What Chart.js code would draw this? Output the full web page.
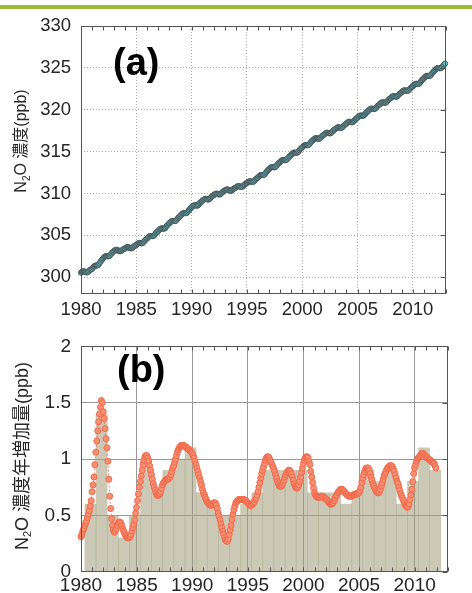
<!DOCTYPE html>
<html>
<head>
<meta charset="utf-8">
<script src="https://cdn.jsdelivr.net/npm/chart.js@4.4.1/dist/chart.umd.min.js"></script>
<style>
  body { margin: 0; background: #fff; }
  #page { position: relative; width: 472px; height: 593px; overflow: hidden; }
  #topBar { position: absolute; left: 0; top: 5px; width: 472px; height: 4px; background: #98bd38; }
  .panel { position: absolute; left: 0; width: 472px; }
  #panelA { top: 0; height: 325px; }
  #panelB { top: 325px; height: 268px; }
</style>
</head>
<body>
<div id="page">
  <div id="topBar"></div>
  <div class="panel" id="panelA"><canvas id="chartA"></canvas></div>
  <div class="panel" id="panelB"><canvas id="chartB"></canvas></div>
</div>
<script>
const FONT = "'Liberation Sans', Arial, 'Noto Sans CJK JP', sans-serif";
const TEXT = "#262626";

// x axis labels, shared by both panels
const yearLabels = [1980, 1985, 1990, 1995, 2000, 2005, 2010];

// (a) monthly N2O concentration (ppb), one row per year from 1980
const concStartYear = 1980;
const concTicks = [300, 305, 310, 315, 320, 325, 330];
const concMonthly = [
  [300.55, 300.64, 300.70, 300.71, 300.68, 300.62, 300.58, 300.59, 300.68, 300.79, 300.88, 300.94],
  [301.00, 301.15, 301.28, 301.36, 301.40, 301.40, 301.43, 301.51, 301.66, 301.84, 301.99, 302.13],
  [302.25, 302.38, 302.47, 302.53, 302.53, 302.51, 302.50, 302.56, 302.68, 302.83, 302.95, 303.06],
  [303.15, 303.23, 303.27, 303.28, 303.23, 303.16, 303.10, 303.11, 303.18, 303.28, 303.35, 303.41],
  [303.45, 303.53, 303.59, 303.60, 303.56, 303.50, 303.45, 303.46, 303.55, 303.65, 303.73, 303.80],
  [303.85, 303.97, 304.05, 304.10, 304.10, 304.06, 304.05, 304.10, 304.21, 304.35, 304.47, 304.56],
  [304.65, 304.78, 304.87, 304.93, 304.93, 304.91, 304.90, 304.96, 305.08, 305.23, 305.35, 305.46],
  [305.55, 305.68, 305.77, 305.83, 305.83, 305.81, 305.80, 305.86, 305.98, 306.13, 306.25, 306.36],
  [306.45, 306.58, 306.67, 306.73, 306.73, 306.71, 306.70, 306.76, 306.88, 307.03, 307.15, 307.26],
  [307.35, 307.48, 307.59, 307.65, 307.66, 307.65, 307.65, 307.71, 307.85, 308.00, 308.13, 308.25],
  [308.35, 308.47, 308.55, 308.60, 308.60, 308.56, 308.55, 308.60, 308.71, 308.85, 308.97, 309.06],
  [309.15, 309.25, 309.33, 309.36, 309.35, 309.30, 309.28, 309.31, 309.41, 309.54, 309.64, 309.73],
  [309.80, 309.90, 309.96, 309.99, 309.96, 309.91, 309.88, 309.90, 310.00, 310.11, 310.21, 310.28],
  [310.35, 310.43, 310.48, 310.49, 310.45, 310.38, 310.33, 310.33, 310.41, 310.51, 310.59, 310.65],
  [310.70, 310.80, 310.86, 310.89, 310.86, 310.81, 310.78, 310.80, 310.90, 311.01, 311.11, 311.18],
  [311.25, 311.35, 311.43, 311.46, 311.45, 311.40, 311.38, 311.41, 311.51, 311.64, 311.74, 311.83],
  [311.90, 312.03, 312.14, 312.20, 312.21, 312.20, 312.20, 312.26, 312.40, 312.55, 312.68, 312.80],
  [312.90, 313.02, 313.11, 313.16, 313.16, 313.13, 313.13, 313.18, 313.30, 313.44, 313.56, 313.66],
  [313.75, 313.87, 313.96, 314.01, 314.01, 313.98, 313.98, 314.03, 314.15, 314.29, 314.41, 314.51],
  [314.60, 314.73, 314.82, 314.88, 314.88, 314.86, 314.85, 314.91, 315.03, 315.18, 315.30, 315.41],
  [315.50, 315.63, 315.72, 315.78, 315.78, 315.76, 315.75, 315.81, 315.93, 316.08, 316.20, 316.31],
  [316.40, 316.50, 316.58, 316.61, 316.60, 316.55, 316.53, 316.56, 316.66, 316.79, 316.89, 316.98],
  [317.05, 317.15, 317.23, 317.26, 317.25, 317.20, 317.18, 317.21, 317.31, 317.44, 317.54, 317.63],
  [317.70, 317.80, 317.88, 317.91, 317.90, 317.85, 317.83, 317.86, 317.96, 318.09, 318.19, 318.28],
  [318.35, 318.46, 318.54, 318.58, 318.56, 318.52, 318.50, 318.54, 318.65, 318.78, 318.88, 318.97],
  [319.05, 319.17, 319.26, 319.31, 319.31, 319.28, 319.28, 319.33, 319.45, 319.59, 319.71, 319.81],
  [319.90, 320.01, 320.10, 320.14, 320.13, 320.09, 320.08, 320.12, 320.23, 320.36, 320.48, 320.57],
  [320.65, 320.76, 320.85, 320.89, 320.88, 320.84, 320.83, 320.87, 320.98, 321.11, 321.23, 321.32],
  [321.40, 321.51, 321.59, 321.63, 321.61, 321.57, 321.55, 321.59, 321.70, 321.83, 321.93, 322.02],
  [322.10, 322.21, 322.29, 322.33, 322.31, 322.27, 322.25, 322.29, 322.40, 322.53, 322.63, 322.72],
  [322.80, 322.93, 323.03, 323.09, 323.10, 323.08, 323.08, 323.13, 323.26, 323.41, 323.54, 323.65],
  [323.75, 323.88, 323.98, 324.04, 324.05, 324.03, 324.03, 324.08, 324.21, 324.36, 324.49, 324.60],
  [324.70, 324.83, 324.92, 324.98, 324.98, 324.96, 324.95, 325.01, 325.13, 325.28, 325.40, 325.51]
];

// (b) smoothed monthly growth rate (ppb/yr), one row per year from 1980
const growthStartYear = 1980;
const growthTicks = [0, 0.5, 1, 1.5, 2];
const growthMonthly = [
  [0.31, 0.33, 0.36, 0.38, 0.41, 0.43, 0.45, 0.48, 0.51, 0.54, 0.58, 0.63],
  [0.71, 0.77, 0.84, 0.95, 1.06, 1.16, 1.25, 1.33, 1.40, 1.46, 1.52, 1.50],
  [1.42, 1.36, 1.27, 1.18, 1.10, 0.98, 0.82, 0.67, 0.56, 0.47, 0.41, 0.37],
  [0.35, 0.36, 0.38, 0.41, 0.43, 0.44, 0.44, 0.43, 0.41, 0.38, 0.36, 0.34],
  [0.32, 0.31, 0.30, 0.30, 0.30, 0.31, 0.33, 0.36, 0.39, 0.42, 0.46, 0.52],
  [0.57, 0.63, 0.69, 0.75, 0.80, 0.85, 0.90, 0.95, 0.99, 1.02, 1.03, 1.03],
  [1.01, 0.98, 0.94, 0.90, 0.86, 0.82, 0.78, 0.75, 0.72, 0.70, 0.68, 0.675],
  [0.68, 0.69, 0.71, 0.74, 0.77, 0.79, 0.80, 0.81, 0.82, 0.82, 0.82, 0.83],
  [0.84, 0.86, 0.89, 0.92, 0.94, 0.97, 1.00, 1.03, 1.06, 1.08, 1.10, 1.11],
  [1.12, 1.12, 1.12, 1.12, 1.11, 1.11, 1.10, 1.09, 1.09, 1.08, 1.07, 1.06],
  [1.05, 1.03, 1.01, 0.98, 0.95, 0.92, 0.89, 0.86, 0.83, 0.80, 0.77, 0.73],
  [0.70, 0.68, 0.66, 0.64, 0.62, 0.61, 0.60, 0.59, 0.59, 0.59, 0.60, 0.61],
  [0.61, 0.61, 0.59, 0.56, 0.52, 0.49, 0.46, 0.42, 0.39, 0.36, 0.33, 0.30],
  [0.28, 0.27, 0.27, 0.29, 0.33, 0.37, 0.41, 0.46, 0.51, 0.55, 0.58, 0.61],
  [0.62, 0.63, 0.64, 0.64, 0.64, 0.64, 0.64, 0.64, 0.64, 0.63, 0.63, 0.62],
  [0.61, 0.60, 0.59, 0.585, 0.59, 0.60, 0.61, 0.62, 0.64, 0.65, 0.68, 0.71],
  [0.75, 0.79, 0.83, 0.87, 0.90, 0.93, 0.96, 0.99, 1.01, 1.02, 1.02, 1.01],
  [0.99, 0.97, 0.95, 0.93, 0.91, 0.89, 0.86, 0.83, 0.80, 0.78, 0.76, 0.755],
  [0.76, 0.77, 0.79, 0.81, 0.84, 0.86, 0.88, 0.89, 0.90, 0.90, 0.89, 0.87],
  [0.84, 0.81, 0.78, 0.76, 0.745, 0.74, 0.75, 0.77, 0.80, 0.84, 0.88, 0.92],
  [0.96, 0.99, 1.01, 1.02, 1.02, 1.01, 0.98, 0.95, 0.89, 0.84, 0.79, 0.74],
  [0.70, 0.68, 0.67, 0.66, 0.66, 0.66, 0.66, 0.67, 0.67, 0.67, 0.66, 0.65],
  [0.65, 0.64, 0.63, 0.62, 0.61, 0.60, 0.60, 0.60, 0.61, 0.63, 0.65, 0.67],
  [0.68, 0.70, 0.71, 0.72, 0.73, 0.73, 0.73, 0.72, 0.71, 0.70, 0.69, 0.68],
  [0.68, 0.67, 0.67, 0.67, 0.67, 0.68, 0.68, 0.68, 0.69, 0.69, 0.69, 0.70],
  [0.70, 0.72, 0.75, 0.79, 0.83, 0.86, 0.89, 0.91, 0.92, 0.92, 0.92, 0.90],
  [0.87, 0.84, 0.81, 0.78, 0.76, 0.74, 0.72, 0.71, 0.70, 0.70, 0.71, 0.73],
  [0.76, 0.79, 0.82, 0.85, 0.87, 0.89, 0.91, 0.92, 0.93, 0.94, 0.94, 0.94],
  [0.93, 0.91, 0.89, 0.86, 0.83, 0.80, 0.78, 0.75, 0.72, 0.69, 0.67, 0.65],
  [0.63, 0.61, 0.59, 0.58, 0.57, 0.58, 0.60, 0.64, 0.68, 0.73, 0.80, 0.87],
  [0.92, 0.95, 0.98, 1.00, 1.01, 1.02, 1.03, 1.04, 1.05, 1.05, 1.04, 1.03],
  [1.02, 1.01, 1.01, 1.00, 0.99, 0.99, 0.98, 0.97, 0.97, 0.96, 0.94, 0.92]
];

// (b) annual growth bars
const barYears = [1981, 1982, 1983, 1984, 1985, 1986, 1987, 1988, 1989, 1990,
  1991, 1992, 1993, 1994, 1995, 1996, 1997, 1998, 1999, 2000,
  2001, 2002, 2003, 2004, 2005, 2006, 2007, 2008, 2009, 2010, 2011, 2012];
const barValues = [0.6, 1.4, 0.5, 0.3, 0.5, 1.0, 0.7, 0.9, 1.0, 1.1,
  0.7, 0.6, 0.5, 0.5, 0.6, 0.7, 0.9, 0.9, 0.9, 0.9,
  0.7, 0.7, 0.7, 0.6, 0.7, 0.9, 0.8, 0.9, 0.6, 0.8, 1.1, 0.9];
const BAR_SHIFT = -0.15;

const titleA = [{ t: "N" }, { t: "2", sub: true }, { t: "O 濃度(ppb)" }];
const titleB = [{ t: "N" }, { t: "2", sub: true }, { t: "O 濃度年増加量(ppb)" }];

function monthlyPoints(rows, startYear) {
  return rows.flatMap((row, i) => row.map((v, m) => ({ x: startYear + i + m / 12, y: v })));
}

function drawRotated(ctx, parts, cx, cy, size) {
  const main = `${size}px ${FONT}`;
  const sub = `${Math.round(size * 0.62)}px ${FONT}`;
  ctx.save();
  ctx.translate(cx, cy);
  ctx.rotate(-Math.PI / 2);
  const widths = parts.map((p) => {
    ctx.font = p.sub ? sub : main;
    return ctx.measureText(p.t).width;
  });
  let x = -widths.reduce((a, b) => a + b, 0) / 2;
  ctx.fillStyle = TEXT;
  ctx.textBaseline = "middle";
  parts.forEach((p, i) => {
    ctx.font = p.sub ? sub : main;
    ctx.fillText(p.t, x, p.sub ? size * 0.3 : 0);
    x += widths[i];
  });
  ctx.restore();
}

const decor = {
  id: "decor",
  afterDraw(chart, args, opts) {
    const { ctx, chartArea: a, scales } = chart;
    const x = scales.x, y = scales.y;
    const L = Math.round(a.left) + 0.5, R = Math.round(a.right) - 0.5;
    const T = Math.round(a.top) + 0.5, B = Math.round(a.bottom) - 0.5;
    ctx.save();
    ctx.strokeStyle = opts.frame;
    ctx.lineWidth = 1;
    ctx.beginPath();
    for (let yr = Math.ceil(x.min); yr <= x.max; yr++) {
      const px = Math.round(x.getPixelForValue(yr)) + 0.5;
      ctx.moveTo(px, B); ctx.lineTo(px, B - 4);
      ctx.moveTo(px, T); ctx.lineTo(px, T + 4);
    }
    y.ticks.forEach((t) => {
      const py = Math.round(y.getPixelForValue(t.value)) + 0.5;
      ctx.moveTo(R, py); ctx.lineTo(R - 5, py);
    });
    ctx.stroke();
    ctx.strokeRect(L, T, R - L, B - T);

    ctx.fillStyle = "#000";
    ctx.font = `bold 38px ${FONT}`;
    ctx.textBaseline = "middle";
    ctx.fillText(opts.letter, opts.letterX, opts.letterY);
    ctx.restore();

    drawRotated(ctx, opts.title, opts.titleX, opts.titleY, opts.titleSize);
  }
};

function xScale(fontSize, pad, height, gridColor, dash) {
  return {
    type: "linear",
    min: 1980,
    max: 2013,
    offset: false,
    afterBuildTicks: (axis) => { axis.ticks = yearLabels.map((v) => ({ value: v })); },
    afterFit: (axis) => { axis.height = height; },
    ticks: {
      autoSkip: false,
      maxRotation: 0,
      padding: pad,
      color: TEXT,
      font: { family: FONT, size: fontSize },
      callback: (v) => String(v)
    },
    grid: { color: gridColor, lineWidth: 1, drawTicks: false, offset: false },
    border: { display: false, dash: dash }
  };
}

new Chart(document.getElementById("chartA"), {
  type: "line",
  data: {
    datasets: [{
      data: monthlyPoints(concMonthly, concStartYear),
      borderColor: "#4c5b5d",
      borderWidth: 1,
      pointRadius: 2.6,
      pointBackgroundColor: "#61c3cf",
      pointBorderColor: "#4a5759",
      pointBorderWidth: 1,
      clip: false
    }]
  },
  options: {
    responsive: true,
    maintainAspectRatio: false,
    animation: false,
    layout: { padding: { top: 26, right: 26, left: 0, bottom: 0 } },
    plugins: {
      legend: { display: false },
      tooltip: { enabled: false },
      decor: {
        frame: "#555", letter: "(a)", letterX: 113, letterY: 65,
        title: titleA, titleX: 22, titleY: 141, titleSize: 16
      }
    },
    scales: {
      x: xScale(18.5, 5, 31, "#aaa", [1, 2]),
      y: {
        min: 298,
        max: 330,
        afterBuildTicks: (axis) => { axis.ticks = concTicks.map((v) => ({ value: v })); },
        afterFit: (axis) => { axis.width = 81; },
        ticks: { padding: 10, color: TEXT, font: { family: FONT, size: 18.5 } },
        grid: { color: "#aaa", lineWidth: 1, drawTicks: false },
        border: { display: false, dash: [1, 2] }
      }
    }
  },
  plugins: [decor]
});

new Chart(document.getElementById("chartB"), {
  type: "bar",
  data: {
    datasets: [
      {
        type: "line",
        data: monthlyPoints(growthMonthly, growthStartYear),
        borderColor: "rgba(240, 100, 70, 0.8)",
        borderWidth: 1,
        borderDash: [2, 2],
        pointRadius: 3,
        pointBackgroundColor: "#f88f72",
        pointBorderColor: "#f2694a",
        pointBorderWidth: 1,
        clip: false,
        order: 0
      },
      {
        type: "bar",
        data: barYears.map((yr, i) => ({ x: yr + BAR_SHIFT, y: barValues[i] })),
        backgroundColor: "rgba(160, 155, 120, 0.55)",
        borderWidth: 0,
        barPercentage: 1,
        categoryPercentage: 1,
        order: 1
      }
    ]
  },
  options: {
    responsive: true,
    maintainAspectRatio: false,
    animation: false,
    layout: { padding: { top: 12, right: 24, left: 0, bottom: 0 } },
    plugins: {
      legend: { display: false },
      tooltip: { enabled: false },
      decor: {
        frame: "#555", letter: "(b)", letterX: 117, letterY: 47,
        title: titleB, titleX: 23, titleY: 131, titleSize: 18
      }
    },
    scales: {
      x: xScale(19, 3, 21, "#9a9a9a", []),
      y: {
        min: 0,
        max: 2,
        afterBuildTicks: (axis) => { axis.ticks = growthTicks.map((v) => ({ value: v })); },
        afterFit: (axis) => { axis.width = 81; },
        ticks: { padding: 10, color: TEXT, font: { family: FONT, size: 19 }, callback: (v) => String(v) },
        grid: { color: "#9a9a9a", lineWidth: 1, drawTicks: false },
        border: { display: false }
      }
    }
  },
  plugins: [decor]
});
</script>
</body>
</html>
